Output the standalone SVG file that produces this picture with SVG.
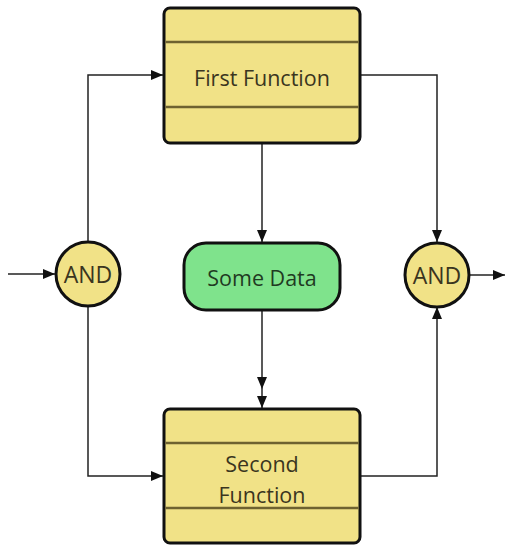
<svg xmlns="http://www.w3.org/2000/svg" width="506" height="546" viewBox="0 0 506 546">
<defs>
<style>
.fn{fill:#F1E287;stroke:#111;stroke-width:3}
.sep{stroke:#6E6230;stroke-width:2.5}
.and{fill:#F1E287;stroke:#111;stroke-width:3}
.data{fill:#7FE38C;stroke:#111;stroke-width:3}
.t{font-family:"Open Sans","Noto Sans",sans-serif;font-size:21.5px;fill:#3A3520;text-anchor:middle;dominant-baseline:central}
.ta{font-size:23px}
.td{fill:#1F3A22}
.c{fill:none;stroke:#222;stroke-width:1.5}
</style>
<marker id="ar" viewBox="0 0 12 10" refX="12" refY="5" markerWidth="12" markerHeight="10" markerUnits="userSpaceOnUse" orient="auto">
<path d="M0,0 L12,5 L0,10 z" fill="#111"/>
</marker>
</defs>
<g id="connectors">
<path class="c" d="M8,274 L55,274" marker-end="url(#ar)"/>
<path class="c" d="M88,242 L88,75 L163,75" marker-end="url(#ar)"/>
<path class="c" d="M88,306 L88,476 L163,476" marker-end="url(#ar)"/>
<path class="c" d="M262,144 L262,242" marker-end="url(#ar)"/>
<path class="c" d="M262,311 L262,389" marker-end="url(#ar)"/>
<path class="c" d="M262,389 L262,408" marker-end="url(#ar)"/>
<path class="c" d="M361,75 L437,75 L437,242" marker-end="url(#ar)"/>
<path class="c" d="M361,476 L437,476 L437,307" marker-end="url(#ar)"/>
<path class="c" d="M470,275 L505,275" marker-end="url(#ar)"/>
</g>
<g id="first-function">
<rect class="fn" x="164" y="8" width="196" height="135" rx="6"/>
<line class="sep" x1="165.5" y1="42" x2="358.5" y2="42"/>
<line class="sep" x1="165.5" y1="107" x2="358.5" y2="107"/>
<text class="t" x="262" y="77">First Function</text>
</g>
<g id="second-function">
<rect class="fn" x="164" y="409" width="196" height="134" rx="6"/>
<line class="sep" x1="165.5" y1="443" x2="358.5" y2="443"/>
<line class="sep" x1="165.5" y1="508" x2="358.5" y2="508"/>
<text class="t" x="262" y="463">Second</text>
<text class="t" x="262" y="494">Function</text>
</g>
<g id="some-data">
<rect class="data" x="184" y="243" width="156" height="67" rx="22"/>
<text class="t td" x="262" y="277">Some Data</text>
</g>
<g id="and-left">
<circle class="and" cx="88" cy="274" r="32"/>
<text class="t ta" x="88" y="274">AND</text>
</g>
<g id="and-right">
<circle class="and" cx="437" cy="275" r="32"/>
<text class="t ta" x="437" y="275">AND</text>
</g>
</svg>
